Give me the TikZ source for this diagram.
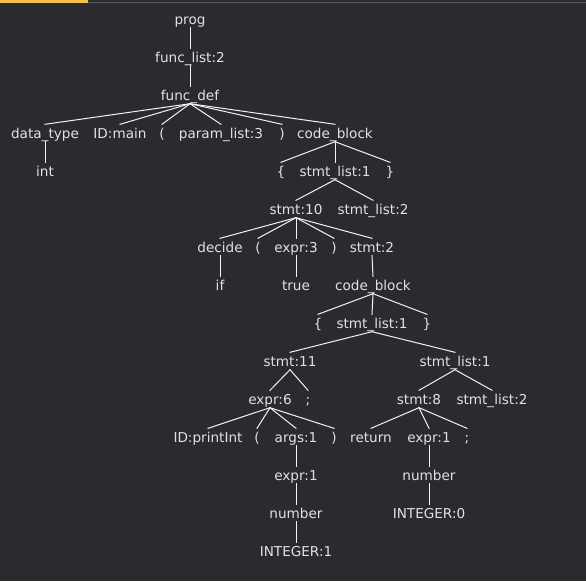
\documentclass[tikz,border=0pt]{standalone}
\usepackage{fontspec}
\setmainfont{DejaVu Sans}
\definecolor{bg}{HTML}{2B2A2E}
\definecolor{fg}{HTML}{E2E2E2}
\definecolor{edgecol}{HTML}{F2F2F2}
\definecolor{tabor}{HTML}{F5C04E}
\definecolor{tabline}{HTML}{5A5A5E}
\tikzset{
  tn/.style={inner xsep=0pt, inner ysep=0.5pt, text height=13pt, text depth=3pt, text=fg, font=\fontsize{13.6}{16}\selectfont},
  te/.style={draw=edgecol, line width=1pt, shorten <=-0.5pt, shorten >=-0.5pt}
}
\begin{document}
\begin{tikzpicture}[x=1pt,y=-1pt]
\fill[bg] (0,0) rectangle (586,581);
\useasboundingbox (0,0) rectangle (586,581);
\fill[tabline] (88,1.5) rectangle (586,3);
\fill[tabor] (0,0) rectangle (88,3);
% row 0-2
\node[tn] (prog) at (190,19) {prog};
\node[tn] (fl) at (190,57) {func\_list:2};
\node[tn] (fd) at (190,95) {func\_def};
% row 3
\node[tn] (dt) at (45,133) {data\_type};
\node[tn] (idm) at (120,133) {ID:main};
\node[tn] (lp1) at (162,133) {(};
\node[tn] (pl) at (221,133) {param\_list:3};
\node[tn] (rp1) at (282,133) {)};
\node[tn] (cb1) at (335,133) {code\_block};
% row 4
\node[tn] (int) at (45,171) {int};
\node[tn] (lb1) at (281,171) {\{};
\node[tn] (sl1) at (335,171) {stmt\_list:1};
\node[tn] (rb1) at (390,171) {\}};
% row 5
\node[tn] (s10) at (296,209) {stmt:10};
\node[tn] (sl2a) at (373,209) {stmt\_list:2};
% row 6
\node[tn] (dec) at (220,247) {decide};
\node[tn] (lp2) at (258,247) {(};
\node[tn] (e3) at (296,247) {expr:3};
\node[tn] (rp2) at (334,247) {)};
\node[tn] (s2) at (372,247) {stmt:2};
% row 7
\node[tn] (if) at (220,285) {if};
\node[tn] (true) at (296,285) {true};
\node[tn] (cb2) at (373,285) {code\_block};
% row 8
\node[tn] (lb2) at (318,323) {\{};
\node[tn] (sl1b) at (372,323) {stmt\_list:1};
\node[tn] (rb2) at (427,323) {\}};
% row 9
\node[tn] (s11) at (290,361) {stmt:11};
\node[tn] (sl1c) at (455,361) {stmt\_list:1};
% row 10
\node[tn] (e6) at (270,399) {expr:6};
\node[tn] (sc1) at (308,399) {;};
\node[tn] (s8) at (419,399) {stmt:8};
\node[tn] (sl2b) at (492,399) {stmt\_list:2};
% row 11
\node[tn] (idp) at (208,437) {ID:printInt};
\node[tn] (lp3) at (257,437) {(};
\node[tn] (a1) at (296,437) {args:1};
\node[tn] (rp3) at (334,437) {)};
\node[tn] (ret) at (371,437) {return};
\node[tn] (e1b) at (429,437) {expr:1};
\node[tn] (sc2) at (467,437) {;};
% row 12
\node[tn] (e1a) at (296,475) {expr:1};
\node[tn] (numb) at (429,475) {number};
% row 13
\node[tn] (numa) at (296,513) {number};
\node[tn] (i0) at (429,513) {INTEGER:0};
% row 14
\node[tn] (i1) at (296,551) {INTEGER:1};
% edges
\foreach \p/\c in {prog/fl, fl/fd, fd/dt, fd/idm, fd/lp1, fd/pl, fd/rp1, fd/cb1,
  dt/int, cb1/lb1, cb1/sl1, cb1/rb1, sl1/s10, sl1/sl2a,
  s10/dec, s10/lp2, s10/e3, s10/rp2, s10/s2, dec/if, e3/true, s2/cb2,
  cb2/lb2, cb2/sl1b, cb2/rb2, sl1b/s11, sl1b/sl1c, s11/e6, s11/sc1,
  sl1c/s8, sl1c/sl2b, e6/idp, e6/lp3, e6/a1, e6/rp3, s8/ret, s8/e1b, s8/sc2,
  a1/e1a, e1a/numa, numa/i1, e1b/numb, numb/i0}
  \draw[te] (\p.south) -- (\c.north);
\end{tikzpicture}
\end{document}
